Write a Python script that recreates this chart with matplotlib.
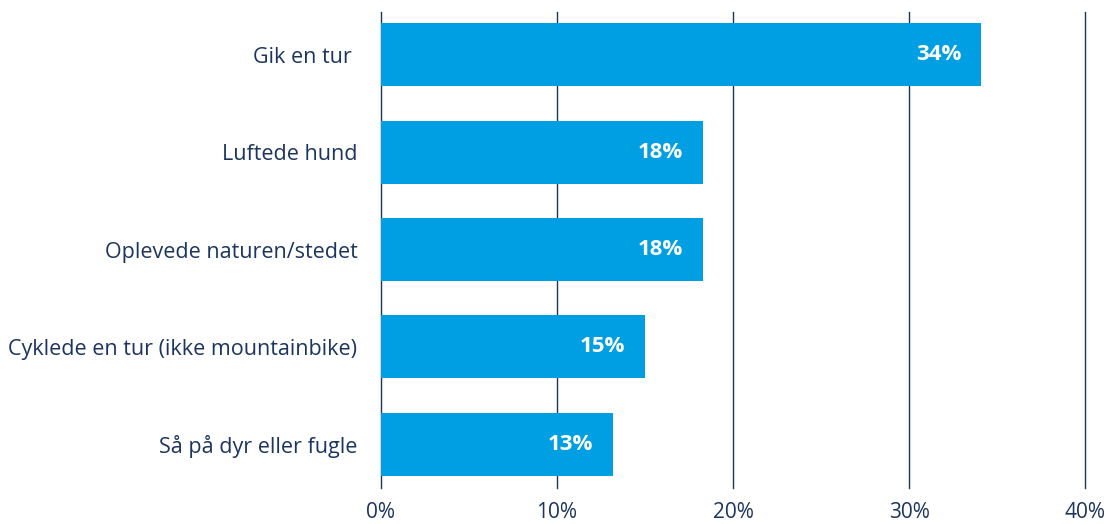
import matplotlib.pyplot as plt
import numpy as np

categories = ['Gik en tur ', 'Luftede hund', 'Oplevede naturen/stedet',
              'Cyklede en tur (ikke mountainbike)', 'Så på dyr eller fugle']
values = [34.1, 18.3, 18.3, 15.0, 13.2]
value_labels = ['34%', '18%', '18%', '15%', '13%']
xticks = [0, 10, 20, 30, 40]

bar_color = '#009FE3'
navy = '#1C355E'

plt.rcParams['font.family'] = ['Open Sans', 'DejaVu Sans']

fig = plt.figure(figsize=(11.1, 5.24), dpi=100)
ax = fig.add_axes([0.3432, 0.0687, 0.6343, 0.9084])

ind = np.arange(len(categories))
ax.barh(ind, values, height=0.65, color=bar_color, zorder=2)
for i, (v, lab) in enumerate(zip(values, value_labels)):
    ax.annotate(lab, (v, i), xytext=(-20, 0), textcoords='offset pixels',
                ha='right', va='center', color='white', fontsize=16,
                fontweight='bold', zorder=3)

ax.set_xlim(0, 40)
ax.set_ylim(4.45, -0.44)
ax.set_xticks(xticks)
ax.set_xticklabels([f'{t}%' for t in xticks])
ax.set_yticks(ind)
ax.set_yticklabels(categories)
ax.xaxis.grid(True, color=navy, linewidth=1.0, zorder=1)
for gl in ax.get_xgridlines():
    gl.set_clip_on(False)
ax.tick_params(axis='both', length=0, colors=navy)
ax.tick_params(axis='y', pad=17, labelsize=15.5)
ax.tick_params(axis='x', pad=10, labelsize=15)
for s in ax.spines.values():
    s.set_visible(False)

plt.savefig('out.png', dpi=100)
